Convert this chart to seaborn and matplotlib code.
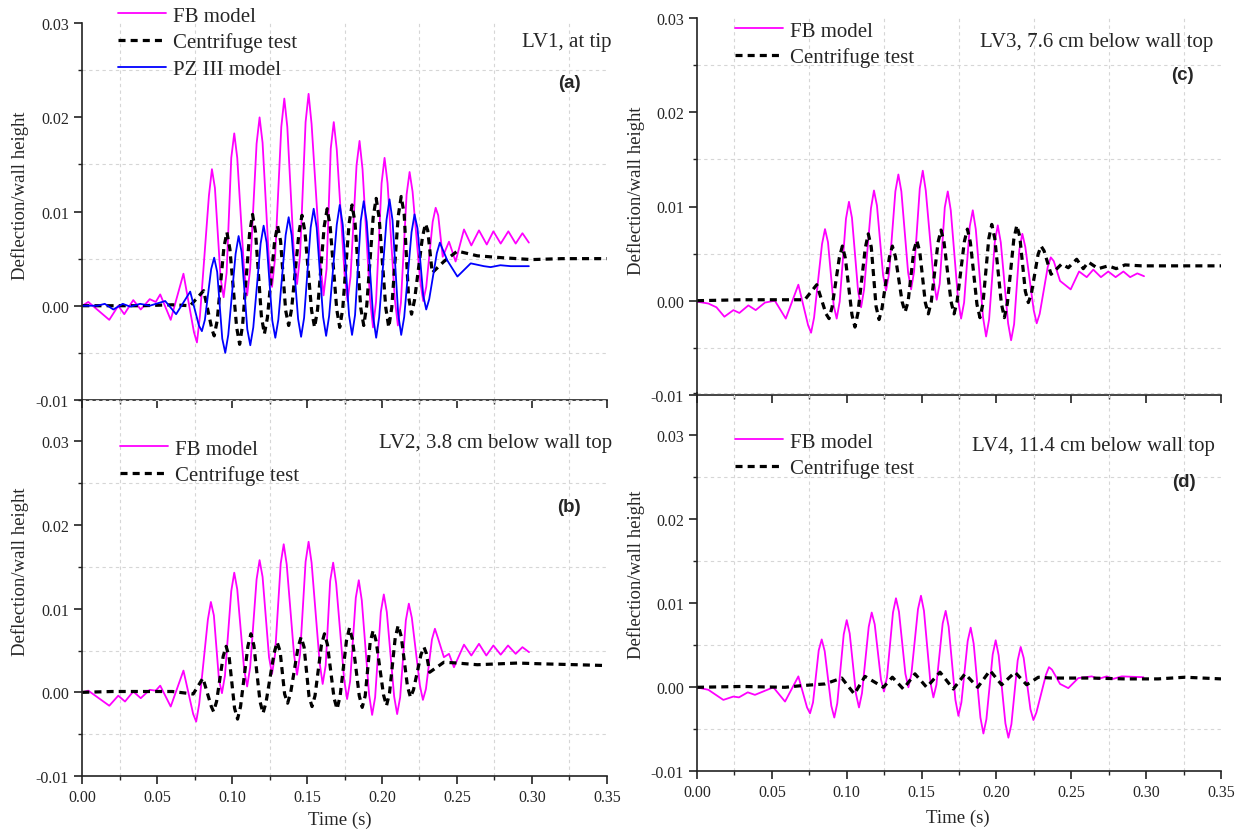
import pandas as pd
import seaborn as sns
import matplotlib.pyplot as plt
from matplotlib.ticker import FixedLocator, FormatStrFormatter

# ---- (a) LV1, at tip ----
t_a_fb = [0.000, 0.004, 0.018, 0.024, 0.028, 0.034, 0.039, 0.045, 0.049, 0.052, 0.059, 0.0675,
          0.0745, 0.0765, 0.0785, 0.0845, 0.0865, 0.0885, 0.0923, 0.0943, 0.0963,
          0.0994, 0.1014, 0.1034, 0.1080, 0.1100, 0.1120, 0.1163, 0.1183, 0.1203,
          0.1246, 0.1266, 0.1286, 0.1328, 0.1348, 0.1368, 0.1413, 0.1433, 0.1453,
          0.1490, 0.1510, 0.1530, 0.1590, 0.1610, 0.1630, 0.1658, 0.1678, 0.1698,
          0.1750, 0.1770, 0.1790, 0.1830, 0.1850, 0.1870, 0.1920, 0.1940, 0.1960,
          0.1997, 0.2017, 0.2037, 0.2086, 0.2106, 0.2126, 0.2164, 0.2184, 0.2204,
          0.2255, 0.2275, 0.2295, 0.2338, 0.2358, 0.2375,
          0.2405, 0.2447, 0.2491, 0.2547, 0.2596, 0.2647, 0.2699, 0.2743, 0.2792, 0.2843, 0.2892, 0.2937, 0.2980]
v_a_fb = [0.0000, 0.0004, -0.0015, 0.0000, -0.0009, 0.0006, -0.0004, 0.0007, 0.0004, 0.0012, -0.0015, 0.0034,
          -0.0028, -0.0039, -0.0011, 0.0117, 0.0145, 0.0125, 0.0029, 0.0009, 0.0035,
          0.0157, 0.0183, 0.0157, 0.0037, 0.0011, 0.0039, 0.0172, 0.0200, 0.0173,
          0.0047, 0.0020, 0.0050, 0.0190, 0.0220, 0.0190, 0.0053, 0.0023, 0.0053,
          0.0195, 0.0225, 0.0193, 0.0043, 0.0011, 0.0039, 0.0167, 0.0195, 0.0166,
          0.0034, 0.0005, 0.0031, 0.0149, 0.0175, 0.0145, 0.0007, -0.0023, 0.0004,
          0.0130, 0.0157, 0.0130, 0.0006, -0.0021, 0.0003, 0.0118, 0.0142, 0.0121,
          0.0026, 0.0005, 0.0020, 0.0089, 0.0104, 0.0096,
          0.0052, 0.0068, 0.0047, 0.0081, 0.0064, 0.0080, 0.0065, 0.0079, 0.0066, 0.0079, 0.0066, 0.0077, 0.0067]
t_a_ct = [0.000, 0.020, 0.040, 0.060, 0.072, 0.081,
          0.0865, 0.088, 0.090, 0.0945, 0.0965, 0.0985, 0.103, 0.105, 0.107,
          0.1116, 0.1136, 0.1156, 0.1195, 0.1215, 0.1235, 0.1283, 0.1303, 0.1323,
          0.1357, 0.1377, 0.1397, 0.1446, 0.1466, 0.1486, 0.153, 0.155, 0.157,
          0.1614, 0.1634, 0.1654, 0.1698, 0.1718, 0.1738, 0.178, 0.180, 0.182,
          0.1858, 0.1878, 0.1898, 0.1941, 0.1961, 0.1981, 0.2025, 0.2045, 0.2065,
          0.2108, 0.2128, 0.2148, 0.2177, 0.2197, 0.2217, 0.227, 0.229, 0.2305,
          0.2335, 0.2413, 0.2503, 0.2636, 0.280, 0.300, 0.320, 0.350]
v_a_ct = [0.0, 0.0, 0.0, 0.0001, 0.0, 0.0016,
          -0.0025, -0.0032, -0.0016, 0.0062, 0.0078, 0.0060, -0.0023, -0.0041, -0.0020,
          0.0076, 0.0097, 0.0078, -0.0011, -0.0030, -0.0013, 0.0068, 0.0085, 0.0069,
          -0.0005, -0.0021, -0.0003, 0.0078, 0.0096, 0.0078, -0.0005, -0.0023, -0.0004,
          0.0084, 0.0103, 0.0084, -0.0004, -0.0023, -0.0003, 0.0087, 0.0107, 0.0088,
          -0.0002, -0.0021, 0.0000, 0.0094, 0.0114, 0.0093, -0.0002, -0.0023, -0.0002,
          0.0095, 0.0116, 0.0097, 0.0010, -0.0009, 0.0006, 0.0073, 0.0087, 0.0080,
          0.0035, 0.0047, 0.0058, 0.0053, 0.0051, 0.0049, 0.0050, 0.0050]
t_a_pz = [0.000, 0.010, 0.015, 0.0207, 0.027, 0.032, 0.0386, 0.045, 0.0553, 0.0626, 0.072,
          0.0778, 0.0798, 0.0818, 0.086, 0.088, 0.090, 0.0934, 0.0954, 0.0974,
          0.1023, 0.1043, 0.1063, 0.1101, 0.1121, 0.1141, 0.119, 0.121, 0.123,
          0.1268, 0.1288, 0.1308, 0.1357, 0.1377, 0.1397, 0.144, 0.146, 0.148,
          0.1524, 0.1544, 0.1564, 0.1607, 0.1627, 0.1647, 0.1698, 0.1718, 0.1738,
          0.178, 0.180, 0.182, 0.1858, 0.1878, 0.1898, 0.1941, 0.1961, 0.1981,
          0.203, 0.205, 0.207, 0.2108, 0.2128, 0.2148, 0.2197, 0.2217, 0.2237,
          0.2275, 0.2295, 0.2315, 0.2366, 0.2386,
          0.2436, 0.2503, 0.2592, 0.268, 0.2725, 0.279, 0.2859, 0.298]
v_a_pz = [0.0, 0.0, 0.0002, -0.0004, 0.0002, -0.0001, 0.0002, 0.0, 0.0005, -0.0009, 0.0015,
          -0.0021, -0.0027, -0.0015, 0.0039, 0.0051, 0.0036, -0.0035, -0.0050, -0.0031,
          0.0055, 0.0074, 0.0057, -0.0025, -0.0042, -0.0023, 0.0066, 0.0085, 0.0067,
          -0.0016, -0.0034, -0.0015, 0.0075, 0.0094, 0.0075, -0.0014, -0.0033, -0.0013,
          0.0083, 0.0103, 0.0083, -0.0012, -0.0032, -0.0011, 0.0086, 0.0107, 0.0086,
          -0.0010, -0.0031, -0.0010, 0.0090, 0.0111, 0.0089, -0.0012, -0.0034, -0.0012,
          0.0091, 0.0113, 0.0091, -0.0009, -0.0031, -0.0012, 0.0078, 0.0097, 0.0082,
          0.0011, -0.0004, 0.0007, 0.0056, 0.0067,
          0.0048, 0.0031, 0.0045, 0.0042, 0.0041, 0.0043, 0.0042, 0.0042]

# ---- (b) LV2, 3.8 cm below wall top ----
t_b_fb = [0.000, 0.004, 0.018, 0.024, 0.0285, 0.034, 0.039, 0.045, 0.049, 0.052, 0.059, 0.0675,
          0.074, 0.076, 0.078, 0.0838, 0.0858, 0.0878, 0.0912, 0.0932, 0.0952,
          0.0994, 0.1014, 0.1034, 0.108, 0.110, 0.112, 0.1163, 0.1183, 0.1203,
          0.1246, 0.1266, 0.1286, 0.1324, 0.1344, 0.1364, 0.1413, 0.1433, 0.1453,
          0.149, 0.151, 0.153, 0.1584, 0.1604, 0.1624, 0.1654, 0.1674, 0.1694,
          0.1747, 0.1767, 0.1787, 0.1825, 0.1845, 0.1865, 0.1914, 0.1934, 0.1954,
          0.1992, 0.2012, 0.2032, 0.2081, 0.2101, 0.2121, 0.2159, 0.2179, 0.2199,
          0.2253, 0.2273, 0.2293, 0.2333, 0.2353, 0.2373,
          0.2413, 0.2447, 0.248, 0.2547, 0.2596, 0.2647, 0.2696, 0.2743, 0.2792, 0.2841, 0.2892, 0.2937, 0.2981]
v_b_fb = [0.0, 0.0002, -0.0016, -0.0004, -0.0011, 0.0001, -0.0007, 0.0003, 0.0002, 0.0008, -0.0017, 0.0026,
          -0.0026, -0.0035, -0.0014, 0.0087, 0.0108, 0.0092, 0.0015, -0.0001, 0.0020,
          0.0121, 0.0143, 0.0123, 0.0027, 0.0007, 0.0030, 0.0135, 0.0158, 0.0138,
          0.0042, 0.0022, 0.0045, 0.0154, 0.0177, 0.0153, 0.0045, 0.0021, 0.0045,
          0.0156, 0.0180, 0.0155, 0.0035, 0.0010, 0.0032, 0.0133, 0.0155, 0.0130,
          0.0016, -0.0008, 0.0013, 0.0113, 0.0134, 0.0110, -0.0003, -0.0027, -0.0006,
          0.0096, 0.0117, 0.0096, -0.0005, -0.0026, -0.0006, 0.0086, 0.0106, 0.0089,
          0.0008, -0.0009, 0.0004, 0.0063, 0.0076, 0.0065,
          0.0042, 0.0046, 0.0030, 0.0057, 0.0044, 0.0058, 0.0044, 0.0056, 0.0045, 0.0056, 0.0046, 0.0054, 0.0048]
t_b_ct = [0.000, 0.020, 0.040, 0.060, 0.074, 0.0805,
          0.0861, 0.0876, 0.0896, 0.094, 0.096, 0.098, 0.1016, 0.1036, 0.1056,
          0.1105, 0.1125, 0.1145, 0.1186, 0.1206, 0.1226, 0.128, 0.130, 0.132,
          0.135, 0.137, 0.139, 0.144, 0.146, 0.148, 0.1513, 0.1533, 0.1553,
          0.1596, 0.1616, 0.1636, 0.168, 0.170, 0.172, 0.1763, 0.1783, 0.1803,
          0.1848, 0.1868, 0.1888, 0.1921, 0.1941, 0.1961, 0.201, 0.203, 0.205,
          0.2088, 0.2108, 0.2128, 0.217, 0.219, 0.221, 0.226, 0.228, 0.2295,
          0.2318, 0.2413, 0.2503, 0.2636, 0.2904, 0.308, 0.330, 0.350]
v_b_ct = [0.0, 0.0001, 0.0001, 0.0001, -0.0002, 0.0017,
          -0.0017, -0.0023, -0.0011, 0.0043, 0.0055, 0.0042, -0.0019, -0.0032, -0.0017,
          0.0055, 0.0070, 0.0056, -0.0011, -0.0025, -0.0012, 0.0047, 0.0060, 0.0049,
          -0.0002, -0.0013, -0.0001, 0.0054, 0.0066, 0.0054, -0.0005, -0.0017, -0.0004,
          0.0057, 0.0070, 0.0057, -0.0007, -0.0020, -0.0005, 0.0062, 0.0077, 0.0063,
          -0.0004, -0.0018, -0.0004, 0.0060, 0.0074, 0.0061, -0.0003, -0.0016, -0.0001,
          0.0065, 0.0080, 0.0067, 0.0007, -0.0006, 0.0003, 0.0045, 0.0054, 0.0047,
          0.0024, 0.0036, 0.0035, 0.0033, 0.0035, 0.0034, 0.0033, 0.0032]

# ---- (c) LV3, 7.6 cm below wall top ----
t_c_fb = [0.000, 0.0076, 0.013, 0.0183, 0.0243, 0.0283, 0.0343, 0.0392, 0.0454, 0.052, 0.0593, 0.0677,
          0.0742, 0.0762, 0.0782, 0.0835, 0.0855, 0.0875, 0.0913, 0.0933, 0.0953,
          0.0995, 0.1015, 0.1035, 0.1076, 0.1096, 0.1116, 0.1162, 0.1182, 0.1202,
          0.1243, 0.1263, 0.1283, 0.1325, 0.1345, 0.1365, 0.141, 0.143, 0.145,
          0.1488, 0.1508, 0.1528, 0.1581, 0.1601, 0.1621, 0.1655, 0.1675, 0.1695,
          0.1744, 0.1764, 0.1784, 0.1822, 0.1842, 0.1862, 0.1911, 0.1931, 0.1951,
          0.1989, 0.2009, 0.2029, 0.2078, 0.2098, 0.2118, 0.2153, 0.2173, 0.2193,
          0.2249, 0.2269, 0.2289, 0.2343, 0.2363, 0.2383,
          0.2425, 0.2496, 0.2552, 0.2603, 0.2647, 0.2698, 0.2747, 0.2796, 0.2848, 0.2893, 0.2941, 0.2986]
v_c_fb = [-0.0001, -0.0003, -0.0007, -0.0017, -0.0010, -0.0013, -0.0005, -0.0010, -0.0002, 0.0000, -0.0019, 0.0017,
          -0.0026, -0.0034, -0.0018, 0.0060, 0.0076, 0.0062, -0.0005, -0.0019, -0.0001,
          0.0087, 0.0105, 0.0088, 0.0010, -0.0007, 0.0012, 0.0098, 0.0117, 0.0101,
          0.0027, 0.0011, 0.0029, 0.0116, 0.0134, 0.0116, 0.0030, 0.0012, 0.0031,
          0.0119, 0.0138, 0.0117, 0.0022, 0.0001, 0.0018, 0.0099, 0.0116, 0.0096,
          0.0001, -0.0019, -0.0002, 0.0079, 0.0096, 0.0076, -0.0018, -0.0038, -0.0020,
          0.0062, 0.0080, 0.0062, -0.0024, -0.0042, -0.0025, 0.0054, 0.0071, 0.0057,
          -0.0010, -0.0024, -0.0014, 0.0036, 0.0046, 0.0042,
          0.0021, 0.0012, 0.0031, 0.0025, 0.0033, 0.0025, 0.0031, 0.0025, 0.0031, 0.0025, 0.0029, 0.0026]
t_c_ct = [0.000, 0.030, 0.060, 0.072, 0.080,
          0.0862, 0.0882, 0.0902, 0.0951, 0.0971, 0.0991, 0.1035, 0.1055, 0.1075,
          0.1124, 0.1144, 0.1164, 0.1196, 0.1216, 0.1236, 0.1285, 0.1305, 0.1325,
          0.137, 0.139, 0.141, 0.1448, 0.1468, 0.1488, 0.1525, 0.1545, 0.1565,
          0.161, 0.163, 0.165, 0.1697, 0.1717, 0.1737, 0.1786, 0.1806, 0.1826,
          0.187, 0.189, 0.191, 0.1949, 0.1969, 0.1989, 0.2033, 0.2053, 0.2073,
          0.2116, 0.2136, 0.2156, 0.2193, 0.2213, 0.2233, 0.2278, 0.2298, 0.2318,
          0.2365, 0.2436, 0.248, 0.2536, 0.258, 0.2614, 0.268, 0.2747, 0.280, 0.2859, 0.297, 0.320, 0.350]
v_c_ct = [0.0, 0.0001, 0.0001, 0.0001, 0.0017,
          -0.0014, -0.0019, -0.0007, 0.0046, 0.0058, 0.0045, -0.0015, -0.0028, -0.0013,
          0.0056, 0.0071, 0.0057, -0.0006, -0.0020, -0.0008, 0.0046, 0.0058, 0.0047,
          -0.0001, -0.0012, -0.0001, 0.0053, 0.0064, 0.0052, -0.0002, -0.0014, -0.0001,
          0.0062, 0.0075, 0.0062, -0.0001, -0.0014, -0.0001, 0.0063, 0.0076, 0.0062,
          -0.0004, -0.0018, -0.0003, 0.0066, 0.0081, 0.0066, -0.0003, -0.0018, -0.0003,
          0.0065, 0.0080, 0.0068, 0.0010, -0.0002, 0.0007, 0.0049, 0.0058, 0.0053,
          0.0028, 0.0039, 0.0035, 0.0044, 0.0034, 0.0041, 0.0034, 0.0037, 0.0034, 0.0038, 0.0037, 0.0037, 0.0037]

# ---- (d) LV4, 11.4 cm below wall top ----
t_d_fb = [0.000, 0.0076, 0.0176, 0.0243, 0.028, 0.0339, 0.0387, 0.051, 0.0588, 0.0677,
          0.0735, 0.0755, 0.0775, 0.0813, 0.0833, 0.0853, 0.0897, 0.0917, 0.0937,
          0.098, 0.100, 0.102, 0.1062, 0.1082, 0.1102, 0.1147, 0.1167, 0.1187,
          0.1229, 0.1249, 0.1269, 0.1309, 0.1329, 0.1349, 0.1392, 0.1412, 0.1432,
          0.1476, 0.1496, 0.1516, 0.1559, 0.1579, 0.1599, 0.1641, 0.1661, 0.1681,
          0.1726, 0.1746, 0.1766, 0.1808, 0.1828, 0.1848, 0.1893, 0.1913, 0.1933,
          0.1975, 0.1995, 0.2015, 0.206, 0.208, 0.210, 0.2142, 0.2162, 0.2182,
          0.2227, 0.2247, 0.2267, 0.2331, 0.2351, 0.2371,
          0.2425, 0.248, 0.2547, 0.2637, 0.2681, 0.2737, 0.278, 0.2837, 0.2982]
v_d_fb = [0.0, -0.0003, -0.0015, -0.0011, -0.0012, -0.0006, -0.0009, 0.0000, -0.0017, 0.0013,
          -0.0024, -0.0031, -0.0018, 0.0044, 0.0057, 0.0043, -0.0022, -0.0036, -0.0019,
          0.0063, 0.0080, 0.0064, -0.0008, -0.0024, -0.0007, 0.0072, 0.0089, 0.0075,
          0.0009, -0.0005, 0.0012, 0.0089, 0.0106, 0.0090, 0.0016, 0.0000, 0.0016,
          0.0093, 0.0109, 0.0091, 0.0006, -0.0012, 0.0003, 0.0076, 0.0091, 0.0072,
          -0.0015, -0.0034, -0.0018, 0.0055, 0.0071, 0.0052, -0.0036, -0.0055, -0.0038,
          0.0039, 0.0056, 0.0038, -0.0043, -0.0060, -0.0044, 0.0032, 0.0048, 0.0035,
          -0.0026, -0.0039, -0.0030, 0.0015, 0.0024, 0.0021,
          0.0004, -0.0001, 0.0011, 0.0013, 0.0010, 0.0013, 0.0010, 0.0013, 0.0012]
t_d_ct = [0.000, 0.030, 0.0588, 0.070, 0.0855, 0.0967, 0.1051, 0.1122, 0.1245, 0.1305, 0.1378, 0.1456,
          0.1534, 0.1623, 0.1712, 0.179, 0.1875, 0.1957, 0.2035, 0.2124, 0.2202, 0.228, 0.2369, 0.2636,
          0.2859, 0.308, 0.326, 0.350]
v_d_ct = [0.0, 0.0001, 0.0, 0.0002, 0.0004, 0.0011, -0.0008, 0.0013, 0.0000, 0.0012, -0.0002, 0.0016,
          0.0000, 0.0018, -0.0002, 0.0016, 0.0000, 0.0020, 0.0003, 0.0018, 0.0003, 0.0012, 0.0011, 0.0011,
          0.0010, 0.0010, 0.0012, 0.0010]

x_major = [0.00, 0.05, 0.10, 0.15, 0.20, 0.25, 0.30, 0.35]
x_minor = [0.025, 0.075, 0.125, 0.175, 0.225, 0.275, 0.325]
y_major = [-0.01, 0.00, 0.01, 0.02, 0.03]
y_minor = [-0.005, 0.005, 0.015, 0.025, 0.035]

sns.set_style('ticks')
plt.rcParams['font.family'] = ['Liberation Serif', 'DejaVu Serif']
plt.rcParams['axes.unicode_minus'] = False

W, H = 1242, 837
fig = plt.figure(figsize=(W / 100, H / 100), dpi=100)
PINK, BLUE = '#FF00FF', '#0000FF'


def px_axes(left, right, top, bottom):
    ax = fig.add_axes([left / W, 1 - bottom / H, (right - left) / W, (bottom - top) / H])
    ax.set_facecolor('none')
    return ax


def style_axes(ax, ytop, show_xlabels):
    ax.set_xlim(0, 0.35)
    ax.set_ylim(-0.01, ytop)
    ax.xaxis.set_major_locator(FixedLocator(x_major))
    ax.xaxis.set_minor_locator(FixedLocator(x_minor))
    ax.yaxis.set_major_locator(FixedLocator(y_major))
    ax.yaxis.set_minor_locator(FixedLocator(y_minor))
    ax.xaxis.set_major_formatter(FormatStrFormatter('%.2f'))
    ax.yaxis.set_major_formatter(FormatStrFormatter('%.2f'))
    ax.xaxis.grid(False, which='major')
    ax.yaxis.grid(False, which='major')
    ax.grid(True, which='minor', ls=(0, (3, 3)), color='#d6d6d6', lw=0.8)
    sns.despine(ax=ax)
    for s in ['left', 'bottom']:
        ax.spines[s].set_linewidth(1.2)
        ax.spines[s].set_color('#222222')
    ax.tick_params(which='major', direction='out', length=6, width=1.2, labelsize=11.5, color='#222222')
    ax.tick_params(which='minor', direction='out', length=3, width=1.0, color='#222222')
    ax.tick_params(axis='x', labelbottom=show_xlabels)
    ax.set_xlabel('')
    ax.set_ylabel('')


def draw(ax, t_fb, v_fb, t_ct, v_ct, t_pz=None, v_pz=None):
    sns.lineplot(x=t_fb, y=v_fb, ax=ax, color=PINK, lw=1.3, label='FB model', errorbar=None)
    sns.lineplot(x=t_ct, y=v_ct, ax=ax, color='black', lw=2.3, linestyle=(0, (2.2, 1.6)),
                 label='Centrifuge test', errorbar=None)
    if t_pz is not None:
        sns.lineplot(x=t_pz, y=v_pz, ax=ax, color=BLUE, lw=1.3, label='PZ III model', errorbar=None)


def legend(ax, x, y):
    ax.legend(loc='upper left', bbox_to_anchor=(x / W, 1 - y / H), bbox_transform=fig.transFigure,
              frameon=False, fontsize=15, handlelength=2.3, handletextpad=0.35, labelspacing=0.33,
              borderpad=0, borderaxespad=0)


ax_a = px_axes(82.3, 606.8, 24.2, 400.9)
ax_b = px_axes(82.3, 606.8, 400.5, 777)
ax_c = px_axes(697, 1221, 19.1, 395.9)
ax_d = px_axes(697, 1221, 394.3, 772.3)

draw(ax_a, t_a_fb, v_a_fb, t_a_ct, v_a_ct, t_a_pz, v_a_pz)
draw(ax_b, t_b_fb, v_b_fb, t_b_ct, v_b_ct)
draw(ax_c, t_c_fb, v_c_fb, t_c_ct, v_c_ct)
draw(ax_d, t_d_fb, v_d_fb, t_d_ct, v_d_ct)

style_axes(ax_a, 0.03, False)
style_axes(ax_b, 0.035, True)
style_axes(ax_c, 0.03, False)
style_axes(ax_d, 0.035, True)

legend(ax_a, 118, 7)
legend(ax_b, 120, 440)
legend(ax_c, 735, 22)
legend(ax_d, 735, 433)

# axis titles
for x, y in [(20, 196), (20, 572), (636, 191), (636, 575)]:
    fig.text(x / W, 1 - y / H, 'Deflection/wall height', rotation=90, ha='center', va='center', fontsize=13.5)
fig.text(340 / W, 1 - 820 / H, 'Time (s)', ha='center', va='center', fontsize=13.5)
fig.text(958 / W, 1 - 818 / H, 'Time (s)', ha='center', va='center', fontsize=13.5)

# panel annotations
notes = [(612, 43, 'LV1, at tip'), (612, 444, 'LV2, 3.8 cm below wall top'),
         (1213, 43, 'LV3, 7.6 cm below wall top'), (1215, 447, 'LV4, 11.4 cm below wall top')]
for x, y, s in notes:
    fig.text(x / W, 1 - y / H, s, ha='right', va='center', fontsize=15)
tags = [(569, 83, '(a)'), (569, 508, '(b)'), (1182, 75, '(c)'), (1184, 483, '(d)')]
for x, y, s in tags:
    fig.text(x / W, 1 - y / H, s, ha='center', va='center', fontsize=13.5, fontweight='bold',
             family=['Liberation Sans', 'DejaVu Sans'])

fig.savefig('out.png', dpi=100)
